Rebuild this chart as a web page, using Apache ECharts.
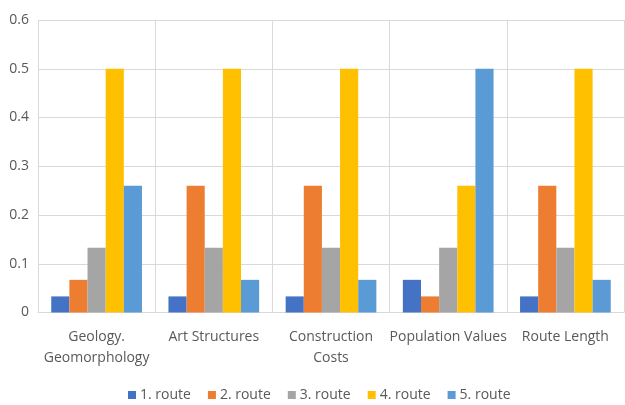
<!DOCTYPE html>
<html>
<head>
<meta charset="utf-8">
<script src="https://cdn.jsdelivr.net/npm/echarts@6/dist/echarts.min.js"></script>
<style>
  html, body { margin: 0; padding: 0; background: #ffffff; }
  #chart { width: 625px; height: 405px; }
</style>
</head>
<body>
<div id="chart"></div>
<script>
// Criteria along the x axis
const categories = ['Geology.\nGeomorphology', 'Art Structures', 'Construction\nCosts', 'Population Values', 'Route Length'];

// Weight of each route per criterion
const route1 = [0.033, 0.033, 0.033, 0.067, 0.033];
const route2 = [0.067, 0.26, 0.26, 0.033, 0.26];
const route3 = [0.133, 0.133, 0.133, 0.133, 0.133];
const route4 = [0.5, 0.5, 0.5, 0.26, 0.5];
const route5 = [0.26, 0.067, 0.067, 0.5, 0.067];

const seriesNames = ['1. route', '2. route', '3. route', '4. route', '5. route'];
const seriesData = [route1, route2, route3, route4, route5];
const colors = ['#4472C4', '#ED7D31', '#A5A5A5', '#FFC000', '#5B9BD5'];

const font = 'Open Sans, Noto Sans, sans-serif';
const textColor = '#595959';
const lineColor = '#d9d9d9';

const chart = echarts.init(document.getElementById('chart'), null, { renderer: 'canvas' });

chart.setOption({
  animation: false,
  color: colors,
  grid: { left: 38, right: 1, top: 20, bottom: 92.5, containLabel: false },
  legend: {
    left: 128,
    top: 388,
    padding: 0,
    itemWidth: 8,
    itemHeight: 8,
    itemGap: 17,
    icon: 'rect',
    textStyle: { color: textColor, fontSize: 14, fontFamily: font, padding: [0, 0, 0, -1] },
    data: seriesNames
  },
  xAxis: {
    type: 'category',
    data: categories,
    boundaryGap: true,
    axisLine: { show: true, lineStyle: { color: lineColor, width: 1 } },
    axisTick: { show: false },
    splitLine: { show: true, lineStyle: { color: lineColor, width: 1 } },
    axisLabel: {
      color: textColor,
      fontSize: 14,
      fontFamily: font,
      margin: 14,
      lineHeight: 21,
      interval: 0
    }
  },
  yAxis: {
    type: 'value',
    min: 0,
    max: 0.6,
    interval: 0.1,
    axisLine: { show: false },
    axisTick: { show: false },
    splitLine: { show: true, lineStyle: { color: lineColor, width: 1 } },
    axisLabel: {
      color: textColor,
      fontSize: 14,
      fontFamily: font,
      margin: 9,
      formatter: function (v) {
        return v === 0 ? '0' : String(Math.round(v * 10) / 10);
      }
    }
  },
  series: seriesNames.map(function (name, i) {
    return {
      name: name,
      type: 'bar',
      data: seriesData[i],
      barGap: '0%',
      barCategoryGap: '22.6%',
      itemStyle: { color: colors[i] }
    };
  })
});
</script>
</body>
</html>
